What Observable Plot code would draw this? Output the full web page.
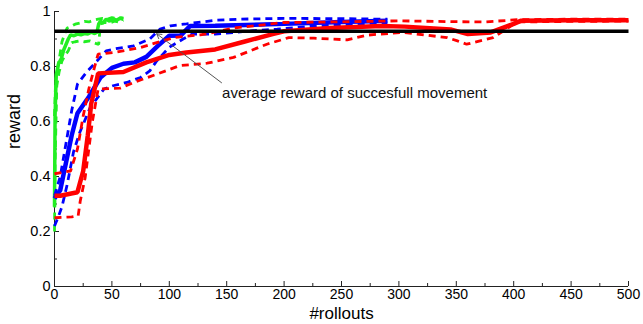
<!DOCTYPE html>
<html>
<head>
<meta charset="utf-8">
<script src="https://cdn.jsdelivr.net/npm/d3@7"></script>
<script src="https://cdn.jsdelivr.net/npm/@observablehq/plot@0.6"></script>
<style>
  html, body { margin: 0; padding: 0; background: #fff; }
  #chart { width: 643px; height: 324px; }
</style>
</head>
<body>
<div id="chart"></div>
<script>
// ---------------- data ----------------
const xTicks = [0, 50, 100, 150, 200, 250, 300, 350, 400, 450, 500];
const xTickLabels = ["0", "50", "100", "150", "200", "250", "300", "350", "400", "450", "500"];
const xMinorTicks = [25, 75, 125, 175, 225, 275, 325, 375, 425, 475];
const yTicks = [0, 0.2, 0.4, 0.6, 0.8, 1];
const yTickLabels = ["0", "0.2", "0.4", "0.6", "0.8", "1"];
const yMinorTicks = [0.1, 0.3, 0.5, 0.7, 0.9];

const xLabel = "#rollouts";
const yLabel = "reward";

// green series
const greenX      = [0, 0.5, 1.5, 3.5, 6, 8, 10, 12, 14, 17, 20, 23, 26, 29, 32, 35, 37, 38.5, 40, 42, 45, 48, 51, 54, 57, 60];
const greenY      = [0.29, 0.62, 0.77, 0.81, 0.83, 0.86, 0.88, 0.9, 0.915, 0.912, 0.918, 0.915, 0.92, 0.918, 0.925, 0.92, 0.925, 0.955, 0.965, 0.958, 0.972, 0.965, 0.974, 0.968, 0.975, 0.972];
const greenUpX    = [0, 1, 3.5, 6.5, 9, 11, 14, 18, 22, 26, 30, 34, 38, 42, 46, 50, 54, 58, 60];
const greenUpY    = [0.62, 0.75, 0.81, 0.89, 0.92, 0.94, 0.945, 0.954, 0.958, 0.964, 0.962, 0.968, 0.972, 0.975, 0.972, 0.978, 0.974, 0.978, 0.976];
const greenLoX    = [0, 0.5, 2, 4, 6.5, 9, 12, 15, 18, 22, 26, 31, 35, 38.5, 40, 44, 48, 52, 56, 60];
const greenLoY    = [0.2, 0.45, 0.73, 0.78, 0.82, 0.84, 0.857, 0.887, 0.89, 0.893, 0.89, 0.893, 0.885, 0.88, 0.955, 0.96, 0.958, 0.965, 0.962, 0.968];

// blue series
const blueX   = [0, 5, 10, 15, 20, 30, 40, 50, 60, 70, 80, 90, 100, 110, 118, 140, 200, 250, 290];
const blueY   = [0.32, 0.35, 0.45, 0.55, 0.63, 0.69, 0.76, 0.795, 0.81, 0.815, 0.835, 0.875, 0.912, 0.913, 0.947, 0.948, 0.955, 0.962, 0.966];
const blueUpX = [0, 5, 10, 15, 20, 28, 37, 45, 55, 69, 83, 92, 101, 115, 140, 160, 200, 250, 290];
const blueUpY = [0.33, 0.4, 0.52, 0.64, 0.736, 0.78, 0.82, 0.857, 0.866, 0.875, 0.9, 0.936, 0.948, 0.955, 0.968, 0.972, 0.975, 0.974, 0.972];
const blueLoX = [0, 3, 6.5, 11, 16.6, 22, 31, 43, 51, 63, 75, 83, 89, 100, 112, 120, 140, 173, 194, 230, 290];
const blueLoY = [0.22, 0.25, 0.29, 0.37, 0.49, 0.56, 0.65, 0.718, 0.73, 0.742, 0.76, 0.784, 0.82, 0.87, 0.9, 0.918, 0.918, 0.93, 0.936, 0.948, 0.96];

// red series
const redX   = [0, 5, 20, 25, 29, 32, 38, 60, 80, 100, 115, 140, 165, 190, 200, 240, 285, 305, 345, 360, 380, 400, 406, 450, 500];
const redY   = [0.33, 0.33, 0.343, 0.42, 0.55, 0.665, 0.775, 0.78, 0.815, 0.842, 0.851, 0.862, 0.89, 0.918, 0.928, 0.94, 0.947, 0.945, 0.935, 0.918, 0.924, 0.955, 0.966, 0.968, 0.968];
const redUpX = [0, 14, 20, 25, 30, 35, 38, 52, 75, 89, 104, 127, 140, 156, 200, 243, 300, 348, 374, 403, 450, 500];
const redUpY = [0.41, 0.42, 0.5, 0.62, 0.72, 0.8, 0.845, 0.851, 0.869, 0.887, 0.905, 0.915, 0.925, 0.94, 0.96, 0.962, 0.966, 0.963, 0.962, 0.97, 0.972, 0.972];
const redLoX = [0, 15, 20.6, 22.4, 26.7, 29.6, 33, 38, 57, 69, 89, 109, 133, 156, 185, 204, 226, 255, 272, 304, 342, 351, 359, 382, 400, 405, 450, 500];
const redLoY = [0.25, 0.253, 0.257, 0.31, 0.396, 0.49, 0.6, 0.718, 0.721, 0.742, 0.772, 0.803, 0.812, 0.833, 0.881, 0.905, 0.903, 0.897, 0.914, 0.924, 0.905, 0.893, 0.881, 0.905, 0.954, 0.962, 0.964, 0.965];

// reference level
const refX = [0, 500];
const refY = [0.928, 0.928];

// annotation
const annText = "average reward of succesfull movement";
const annTextPos = {x: 146, y: 0.702};
const annArrow = {x1: 145.5, y1: 0.741, x2: 89, y2: 0.919};

// ---------------- build ----------------
const rows = (xs, ys) => xs.map((x, i) => ({x, y: ys[i]}));
const RED = "#ff0000", BLUE = "#0000ff", GREEN = "#22ee22";
const DASH = "7,5";
const AXIS = "#222";

function solid(xs, ys, color, w) {
  return Plot.line(rows(xs, ys), {x: "x", y: "y", stroke: color, strokeWidth: w, strokeLinejoin: "miter", strokeLinecap: "butt"});
}
function dashed(xs, ys, color, w) {
  return Plot.line(rows(xs, ys), {x: "x", y: "y", stroke: color, strokeWidth: w, strokeDasharray: DASH, strokeLinejoin: "miter", strokeLinecap: "butt"});
}

const chart = Plot.plot({
  width: 643,
  height: 324,
  marginLeft: 54,
  marginRight: 15,
  marginTop: 11,
  marginBottom: 38,
  x: {domain: [0, 500]},
  y: {domain: [0, 1]},
  style: {fontFamily: "'Liberation Sans', Arial, Helvetica, sans-serif", fontSize: "14.5px", background: "#fff", color: "#000", overflow: "visible"},
  marks: [
    // axes lines
    Plot.ruleY([0], {stroke: AXIS, strokeWidth: 1}),
    Plot.ruleX([0], {stroke: AXIS, strokeWidth: 1}),
    // inward ticks (major and minor)
    Plot.ruleX(xTicks, {x: d => d, y1: 0, y2: 0, insetTop: -5, stroke: AXIS, strokeWidth: 1}),
    Plot.ruleX(xMinorTicks, {x: d => d, y1: 0, y2: 0, insetTop: -3, stroke: AXIS, strokeWidth: 1}),
    Plot.ruleY(yTicks, {y: d => d, x1: 0, x2: 0, insetRight: -5, stroke: AXIS, strokeWidth: 1}),
    Plot.ruleY(yMinorTicks, {y: d => d, x1: 0, x2: 0, insetRight: -3, stroke: AXIS, strokeWidth: 1}),
    // tick labels
    Plot.axisX({ticks: xTicks, tickSize: 0, tickPadding: 3, tickFormat: (d, i) => xTickLabels[i], label: null, fontSize: 14, fill: "#000"}),
    Plot.axisY({ticks: yTicks, tickSize: 0, tickPadding: 4, tickFormat: (d, i) => yTickLabels[i], label: null, fontSize: 14.5, fill: "#000"}),
    // axis titles
    Plot.text([xLabel], {frameAnchor: "bottom", dy: 32, fontSize: 17, fill: "#000", text: d => d}),
    Plot.text([yLabel], {frameAnchor: "left", dx: -40, rotate: -90, fontSize: 18, fill: "#000", text: d => d}),
    // series
    dashed(greenUpX, greenUpY, GREEN, 2.8),
    dashed(greenLoX, greenLoY, GREEN, 2.8),
    solid(greenX, greenY, GREEN, 3.5),
    dashed(blueUpX, blueUpY, BLUE, 2.8),
    dashed(blueLoX, blueLoY, BLUE, 2.8),
    solid(blueX, blueY, BLUE, 4.5),
    dashed(redUpX, redUpY, RED, 2.8),
    dashed(redLoX, redLoY, RED, 2.8),
    solid(redX, redY, RED, 4.5),
    // reference line
    solid(refX, refY, "#000", 3.5),
    // annotation
    Plot.arrow([annArrow], {x1: "x1", y1: "y1", x2: "x2", y2: "y2", stroke: "#555", strokeWidth: 1, headLength: 8}),
    Plot.text([annTextPos], {x: "x", y: "y", text: () => annText, textAnchor: "start", fontSize: 15, fill: "#111"})
  ]
});
document.getElementById("chart").append(chart);
</script>
</body>
</html>
